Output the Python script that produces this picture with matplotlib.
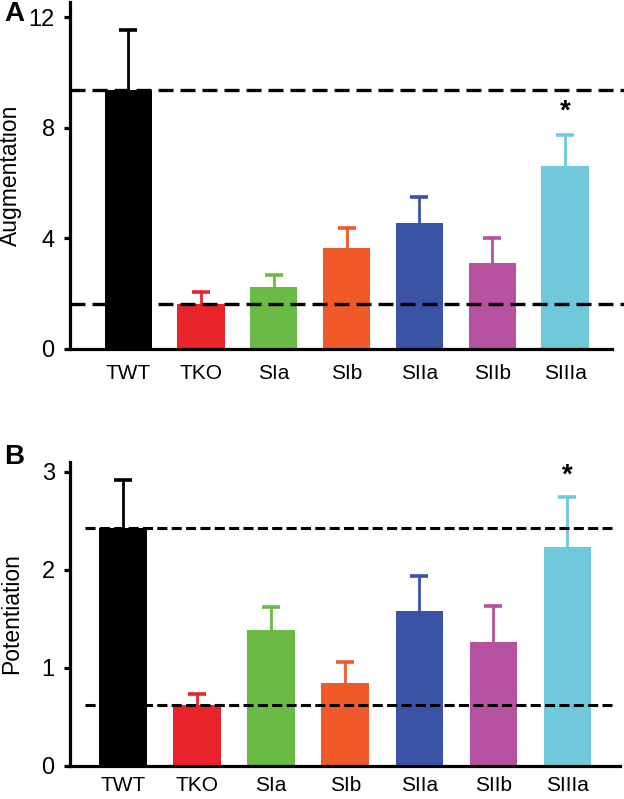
import matplotlib
matplotlib.use("Agg")
import matplotlib.pyplot as plt
import numpy as np

plt.rcParams['font.family'] = ['Liberation Sans', 'DejaVu Sans']

categories = ["TWT", "TKO", "SIa", "SIb", "SIIa", "SIIb", "SIIIa"]
colors = ["#000000", "#E8242A", "#6ABB46", "#F05A28", "#3A53A4", "#B6529F", "#6FC9DA"]

aug_mean = [9.35, 1.62, 2.24, 3.65, 4.55, 3.11, 6.61]
aug_err = [2.18, 0.44, 0.43, 0.72, 0.94, 0.90, 1.12]
aug_ticks = [0, 4, 8, 12]

pot_mean = [2.43, 0.62, 1.39, 0.85, 1.58, 1.26, 2.23]
pot_err = [0.49, 0.11, 0.23, 0.21, 0.36, 0.37, 0.51]
pot_ticks = [0, 1, 2, 3]

sig_index = 6

fig = plt.figure(figsize=(6.24, 7.99), dpi=100)
W, H = 624, 799

def px_axes(l, t, r, b):
    return fig.add_axes([l / W, 1 - b / H, (r - l) / W, (b - t) / H])

def style(ax, ticks, ylabel, xpad):
    x = np.arange(len(categories))
    for s in ["top", "right"]:
        ax.spines[s].set_visible(False)
    for s in ["left", "bottom"]:
        ax.spines[s].set_linewidth(2.3)
    ax.set_yticks(ticks)
    ax.set_yticklabels([str(t) for t in ticks], fontsize=17)
    ax.tick_params(axis="y", length=4, width=2.3, pad=7)
    ax.set_xticks(x)
    ax.set_xticklabels(categories, fontsize=15)
    ax.tick_params(axis="x", length=0, pad=xpad)
    ax.set_ylabel(ylabel, fontsize=16.5)
    ax.yaxis.set_label_coords(-0.086, 0.5)

def draw_bars(ax, means, errs, width):
    x = np.arange(len(categories))
    ax.bar(x, means, width=width, color=colors, zorder=2)
    for i in range(len(categories)):
        top = means[i] + errs[i]
        ax.vlines(x[i], means[i], top, color=colors[i], lw=2.0, zorder=1)
        ax.plot([x[i]], [top], marker="_", markersize=13, markeredgewidth=2.6,
                color=colors[i], zorder=1)

x = np.arange(len(categories))

# Panel A
axA = px_axes(70, 2, 624, 349)
draw_bars(axA, aug_mean, aug_err, 0.65)
axA.set_xlim(-0.80, 6.81)
axA.set_ylim(0, 12.55)
axA.spines["bottom"].set_bounds(-0.80, 6.65)
for v in (aug_mean[0], aug_mean[1]):
    axA.axhline(v, color="black", lw=2.4, dashes=(4.5, 2.1), zorder=3)
axA.text(x[sig_index], aug_mean[sig_index] + aug_err[sig_index] + 0.85, "*",
         ha="center", va="center", fontsize=20, fontweight="bold")
style(axA, aug_ticks, "Augmentation", 11)

# Panel B
axB = px_axes(70, 462, 620, 766)
draw_bars(axB, pot_mean, pot_err, 0.64)
axB.set_xlim(-0.715, 6.71)
axB.set_ylim(0, 3.1)
for v in (pot_mean[0], pot_mean[1]):
    axB.hlines(v, -0.51, 6.60, color="black", lw=2.2, linestyles=(0, (3.3, 1.4)), zorder=3)
axB.text(x[sig_index], pot_mean[sig_index] + pot_err[sig_index] + 0.22, "*",
         ha="center", va="center", fontsize=20, fontweight="bold")
style(axB, pot_ticks, "Potentiation", 7)

fig.text(4 / W, 1 - 14 / H, "A", fontsize=20, fontweight="bold", ha="left", va="center")
fig.text(4 / W, 1 - 457 / H, "B", fontsize=20, fontweight="bold", ha="left", va="center")

fig.savefig("out.png", dpi=100)
